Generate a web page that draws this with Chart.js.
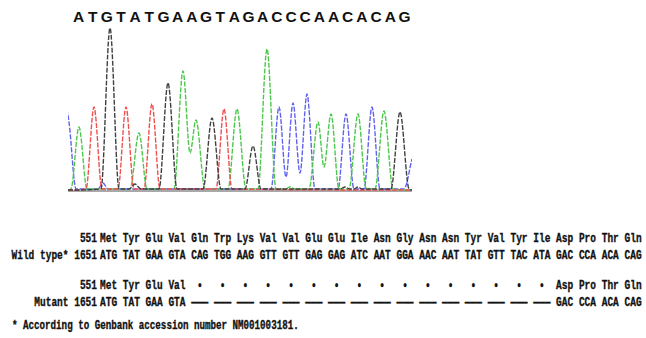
<!DOCTYPE html>
<html>
<head>
<meta charset="utf-8">
<script src="https://cdn.jsdelivr.net/npm/chart.js@4"></script>
<style>
  body { margin: 0; background: #fff; width: 646px; height: 338px; position: relative; overflow: hidden; }
  #seq { position: absolute; left: 0; top: 8px; font: bold 15.5px "Liberation Sans", Arial, sans-serif; color: #111; }
  #seq span { position: absolute; width: 14px; text-align: center; }
  #trace { position: absolute; left: 68px; top: 21px; width: 344px; height: 172px; }
  .row { position: absolute; font: bold 9.5px "Liberation Mono", monospace; white-space: pre; color: #111;
         transform: scaleY(1.35); line-height: 12px; -webkit-text-stroke: 0.25px #111; }
  .lbl { right: 549px; text-align: right; }
  .cod { left: 100px; }
</style>
</head>
<body>
<div id="seq"></div>
<div id="trace"><canvas id="chromatogram"></canvas></div>
<div id="rows"></div>

<script>
// base calls over the trace
const baseCalls = "ATGTATGAAGTAGACCCAACACAG"

// trace channels, [scan position, signal]
const traceA = [[68,1],[71,2],[79,64],[87,2],[130,2],[139,58],[147,2],[174,2],[183,120],[190,38],[196,71],[205,2],
    [228,2],[237,82],[246,2],[258,2],[267,142],[276,2],[285,2],[290,4],[295,2],[309,2],[318,69],[324,24],[331,77],
    [339,2],[349,2],[358,77],[366,3],[375,2],[384,80],[393,2],[412,1]]
const traceC = [[64,95],[69,69],[76,2],[98,2],[103,8],[108,2],[271,2],[279,84],[286,14],[293,88],[300,18],[307,97],
    [315,2],[338,2],[346,77],[354,2],[364,2],[372,84],[380,2],[404,2],[412,32]]
const traceG = [[68,1],[101,2],[110,163],[119,2],[129,2],[135,7],[141,2],[159,2],[168,108],[177,2],[203,2],[212,73],
    [221,2],[245,2],[253,45],[261,2],[340,2],[345,4],[350,2],[354,2],[358,4],[362,2],[391,2],[400,79],[409,2],[412,1]]
const traceT = [[68,1],[86,2],[94,84],[102,2],[118,2],[126,84],[134,2],[144,2],[152,87],[160,2],[216,2],[224,82],
    [232,2],[412,1]]

// alignment below the trace
const wildAmino = ["Met","Tyr","Glu","Val","Gln","Trp","Lys","Val","Val","Glu","Glu","Ile",
    "Asn","Gly","Asn","Asn","Tyr","Val","Tyr","Ile","Asp","Pro","Thr","Gln"]
const wildCodons = ["ATG","TAT","GAA","GTA","CAG","TGG","AAG","GTT","GTT","GAG","GAG","ATC",
    "AAT","GGA","AAC","AAT","TAT","GTT","TAC","ATA","GAC","CCA","ACA","CAG"]
const mutAmino = ["Met","Tyr","Glu","Val"," • "," • "," • "," • "," • "," • "," • "," • ",
    " • "," • "," • "," • "," • "," • "," • "," • ","Asp","Pro","Thr","Gln"]
const mutCodons = ["ATG","TAT","GAA","GTA","———","———","———","———","———","———","———","———",
    "———","———","———","———","———","———","———","———","GAC","CCA","ACA","CAG"]
const footnote = "* According to Genbank accession number NM001003181."

// sequence letters
let seqDiv = document.getElementById("seq")
seqDiv.innerHTML = baseCalls.split("").map((b, i) => {
    return `<span style="left:${71.5 + i * 14.17}px">${b}</span>`
}).join("")

// text rows
const rows = [
    { top: 233, label: "551", codons: wildAmino },
    { top: 250, label: "Wild type* 1651", codons: wildCodons },
    { top: 279.5, label: "551", codons: mutAmino },
    { top: 297, label: "Mutant 1651", codons: mutCodons }
]
let rowsDiv = document.getElementById("rows")
rowsDiv.innerHTML = rows.map(r => `
    <div class="row lbl" style="top:${r.top}px">${r.label}</div>
    <div class="row cod" style="top:${r.top}px">${r.codons.join(" ")}</div>
`).join("") + `<div class="row" style="left:12px;top:320px;font-size:9.2px">${footnote}</div>`

const toPoints = arr => arr.map(p => ({ x: p[0], y: p[1] }))

const channel = (label, arr, color) => ({
    label: label,
    data: toPoints(arr),
    borderColor: color,
    borderWidth: 1.4,
    borderDash: [5, 1.5],
    pointRadius: 0,
    fill: false,
    cubicInterpolationMode: "monotone"
})

new Chart(document.getElementById("chromatogram"), {
    type: "line",
    data: {
        datasets: [
            channel("G", traceG, "#404040"),
            channel("T", traceT, "#f05050"),
            channel("A", traceA, "#4cc94c"),
            channel("C", traceC, "#6262f0"),
            {
                label: "baseline",
                data: toPoints([[68, 0], [412, 0]]),
                borderColor: "#8c8c8c",
                borderWidth: 1.5,
                pointRadius: 0
            }
        ]
    },
    options: {
        responsive: true,
        maintainAspectRatio: false,
        animation: false,
        layout: { padding: 0 },
        plugins: { legend: { display: false }, tooltip: { enabled: false } },
        scales: {
            x: { type: "linear", min: 68, max: 412, display: false },
            y: { min: -2, max: 170, display: false }
        }
    }
})
</script>
</body>
</html>
